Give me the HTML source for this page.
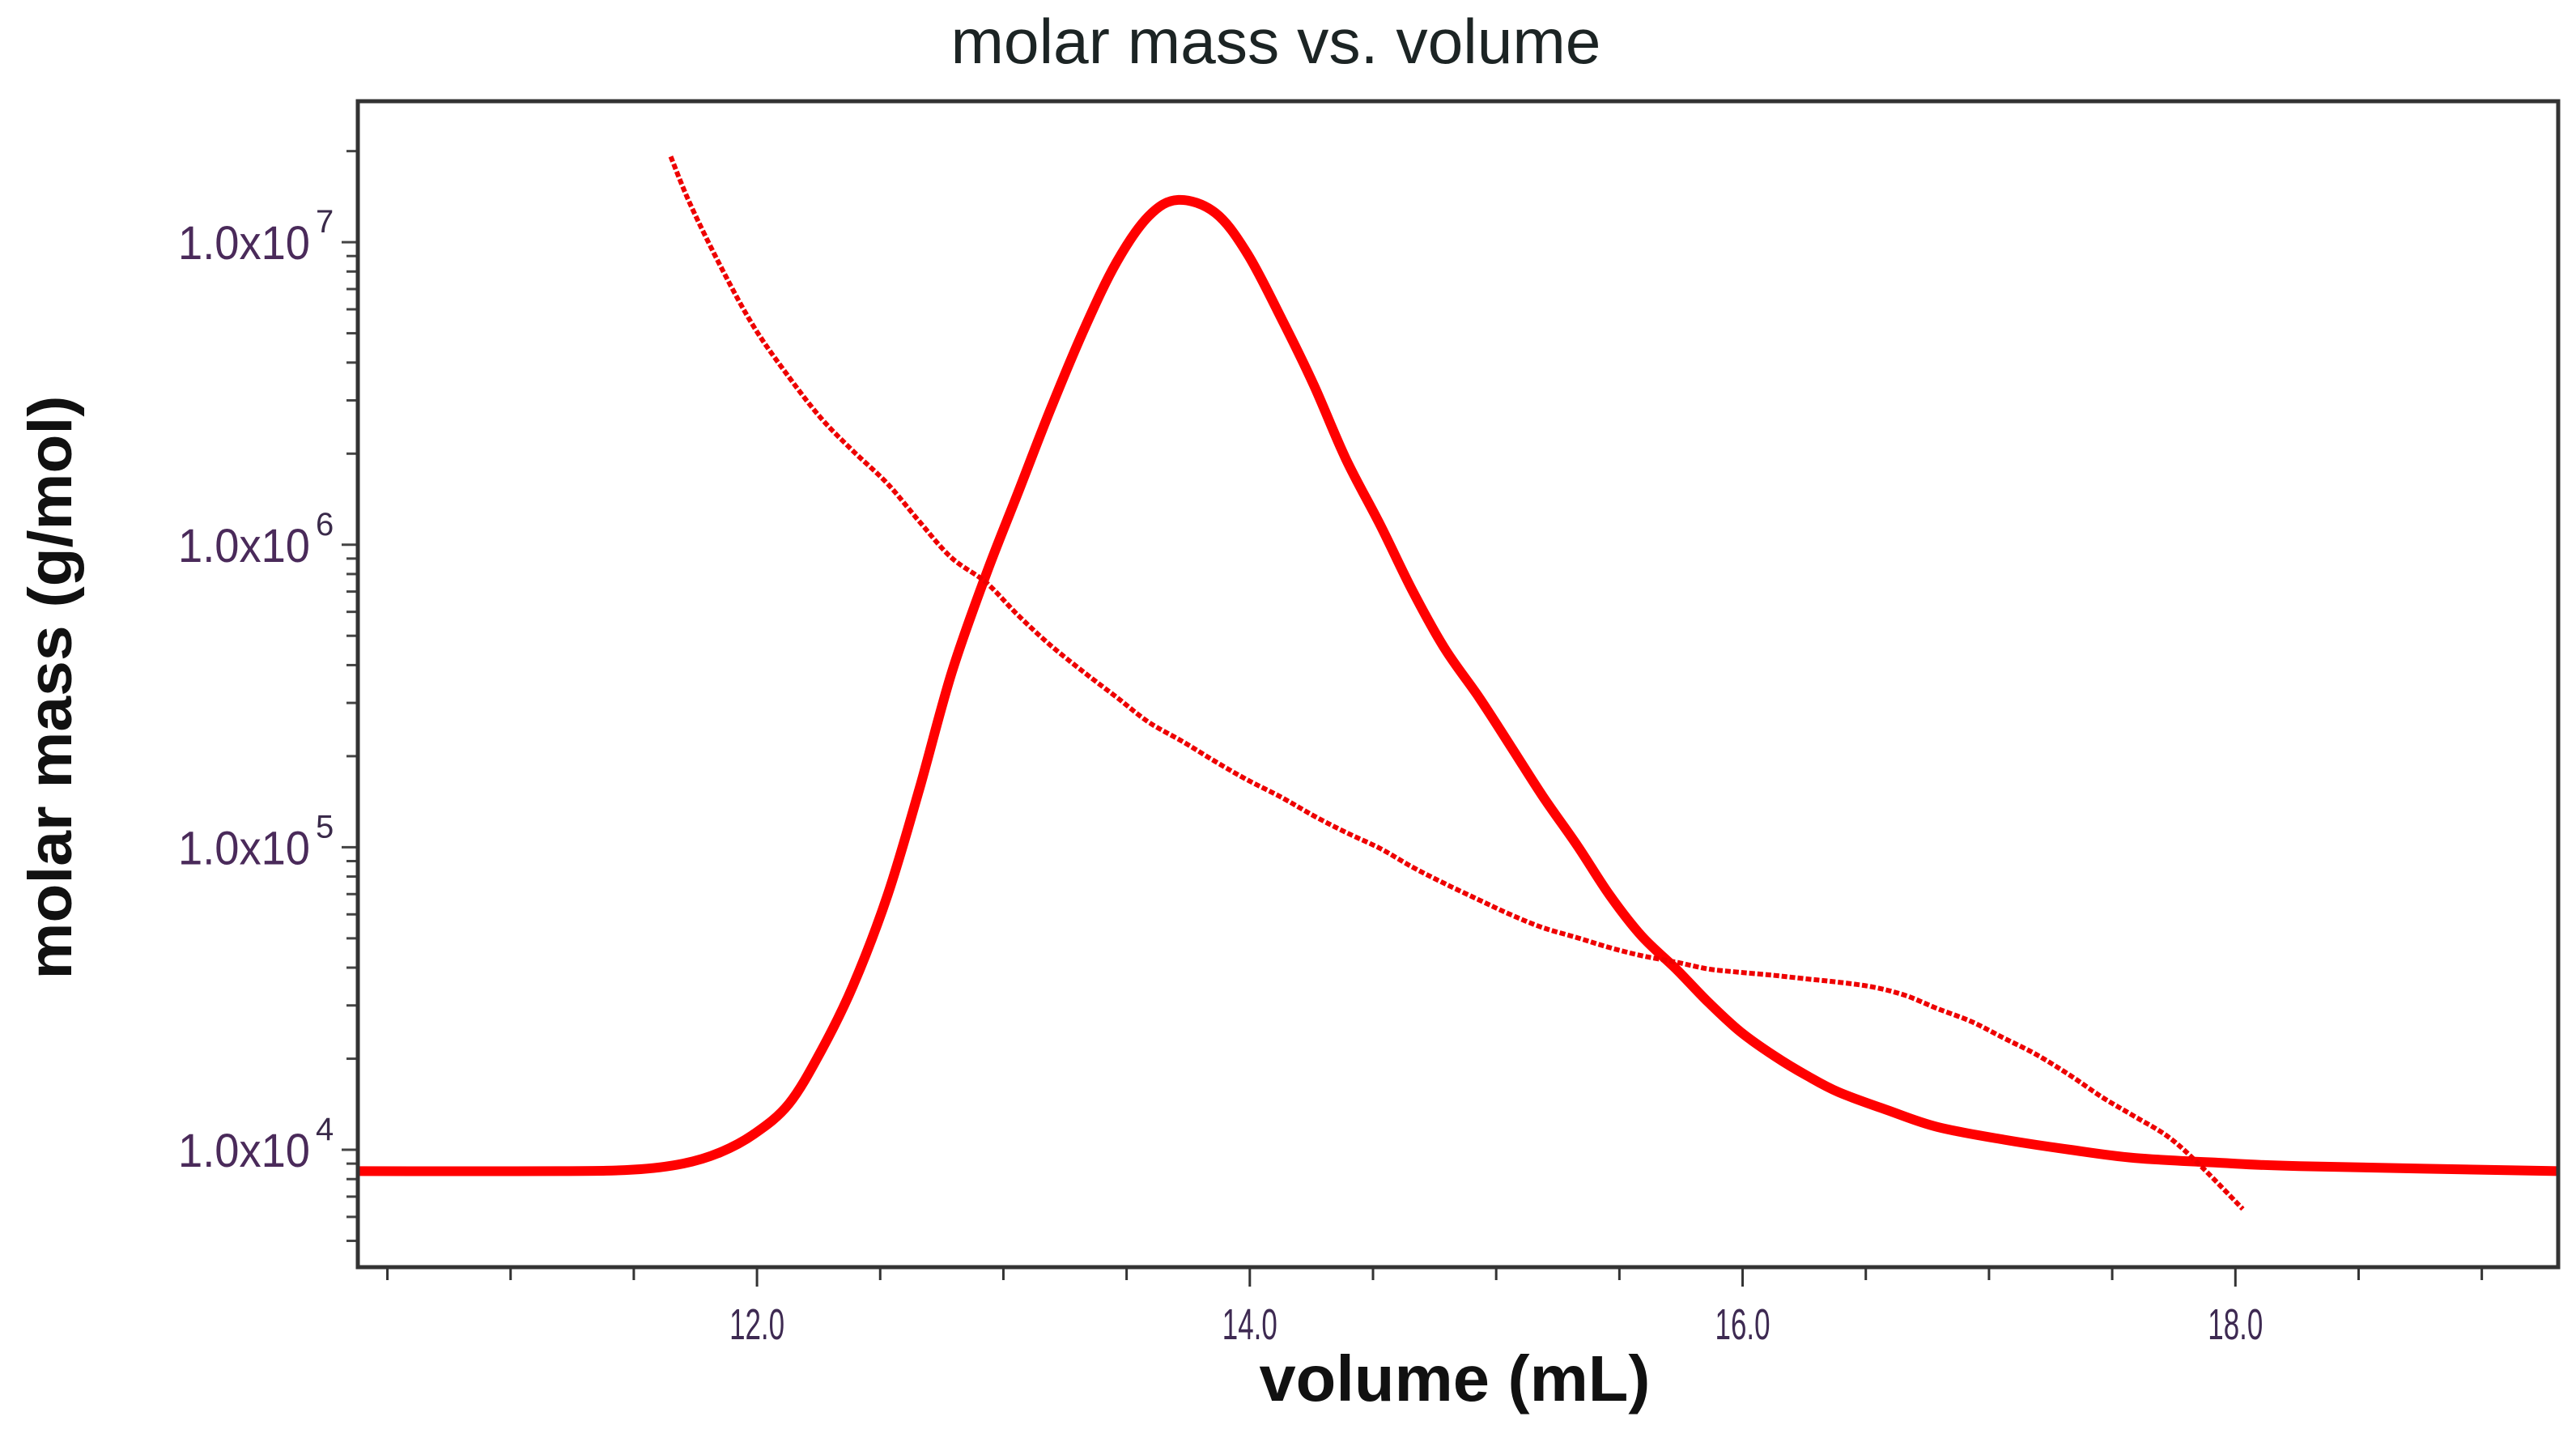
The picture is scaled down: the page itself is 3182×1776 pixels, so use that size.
<!DOCTYPE html>
<html><head><meta charset="utf-8"><style>
html,body{margin:0;padding:0;background:#fff;}
svg{display:block;font-family:"Liberation Sans",Arial,sans-serif;}
</style></head><body>
<svg id="chart" width="3182" height="1776" viewBox="0 0 3182 1776" xmlns="http://www.w3.org/2000/svg">
<rect width="3182" height="1776" fill="#fff"/>
<text x="1576" y="78" text-anchor="middle" font-size="78" fill="#1c2424" textLength="803" lengthAdjust="spacingAndGlyphs">molar mass vs. volume</text>
<text x="1797" y="1730" text-anchor="middle" font-size="80" font-weight="bold" fill="#111" textLength="483" lengthAdjust="spacingAndGlyphs">volume (mL)</text>
<text transform="translate(88,849) rotate(-90)" text-anchor="middle" font-size="76" font-weight="bold" fill="#111" textLength="721" lengthAdjust="spacingAndGlyphs">molar mass (g/mol)</text>
<g id="axes"></g>
<g id="series"></g>
<rect x="442" y="125" width="2718" height="1440" fill="none" stroke="#333" stroke-width="5"/>
</svg>
<script>
const xTicks = [12.0, 14.0, 16.0, 18.0];
const xTickLabels = ["12.0", "14.0", "16.0", "18.0"];
const yDecades = [4, 5, 6, 7];
const yTickLabels = ["1.0x10", "1.0x10", "1.0x10", "1.0x10"];
const yTickExps = ["4", "5", "6", "7"];

const concVolume = [10.38,11.2,11.5,11.7,11.85,11.99,12.13,12.26,12.39,12.53,12.66,12.79,12.93,13.06,13.19,13.33,13.46,13.59,13.71,13.86,13.99,14.13,14.26,14.39,14.53,14.66,14.79,14.93,15.06,15.19,15.33,15.46,15.59,15.73,15.86,15.99,16.13,16.26,16.39,16.59,16.79,17.06,17.33,17.59,17.93,18.26,19.31];
const concValues = [8.5e3,8.5e3,8.6e3,9.0e3,9.8e3,1.13e4,1.42e4,2.12e4,3.49e4,6.95e4,1.57e5,3.77e5,7.98e5,1.49e6,2.79e6,5.21e6,8.61e6,1.22e7,1.38e7,1.25e7,9.16e6,5.56e6,3.37e6,1.92e6,1.16e6,7.05e5,4.55e5,3.13e5,2.15e5,1.47e5,1.01e5,6.95e4,5.09e4,3.96e4,3.08e4,2.46e4,2.04e4,1.76e4,1.55e4,1.35e4,1.19e4,1.08e4,1.0e4,9.4e3,9.06e3,8.83e3,8.5e3];

const massVolume = [11.65,11.73,11.86,11.99,12.13,12.26,12.39,12.53,12.66,12.79,12.93,13.06,13.19,13.33,13.46,13.59,13.73,13.86,13.99,14.13,14.26,14.39,14.53,14.66,14.79,14.93,15.06,15.19,15.33,15.46,15.59,15.73,15.86,15.99,16.13,16.26,16.39,16.53,16.66,16.79,16.93,17.06,17.19,17.33,17.46,17.59,17.73,17.86,18.03];
const massValues = [1.92e7,1.33e7,8.09e6,5.21e6,3.58e6,2.62e6,2.04e6,1.59e6,1.19e6,9.05e5,7.5e5,5.84e5,4.66e5,3.77e5,3.13e5,2.59e5,2.23e5,1.92e5,1.67e5,1.46e5,1.27e5,1.12e5,9.9e4,8.6e4,7.59e4,6.7e4,5.98e4,5.42e4,5.02e4,4.66e4,4.38e4,4.17e4,3.96e4,3.86e4,3.77e4,3.67e4,3.58e4,3.45e4,3.24e4,2.93e4,2.65e4,2.34e4,2.07e4,1.76e4,1.49e4,1.29e4,1.1e4,8.83e3,6.37e3];

const NS = "http://www.w3.org/2000/svg";
const PL = 442, PR = 3160, PT = 125, PB = 1565;
const X0 = 10.38, X1 = 19.31;
const LOG0 = 3.612, LOG1 = 7.466;
function xs(v){ return PL + (v - X0) / (X1 - X0) * (PR - PL); }
function ys(v){ return PB - (Math.log10(v) - LOG0) / (LOG1 - LOG0) * (PB - PT); }
function mk(tag, attrs, parent){ const e = document.createElementNS(NS, tag); for (const k in attrs) e.setAttribute(k, attrs[k]); parent.appendChild(e); return e; }
function smoothPath(pts){
  let d = 'M' + pts[0][0].toFixed(1) + ',' + pts[0][1].toFixed(1);
  for (let i = 0; i < pts.length - 1; i++) {
    const p0 = pts[Math.max(0, i-1)], p1 = pts[i], p2 = pts[i+1], p3 = pts[Math.min(pts.length-1, i+2)];
    const c1x = p1[0] + (p2[0]-p0[0])/6, c1y = p1[1] + (p2[1]-p0[1])/6;
    const c2x = p2[0] - (p3[0]-p1[0])/6, c2y = p2[1] - (p3[1]-p1[1])/6;
    d += ' C' + c1x.toFixed(1) + ',' + c1y.toFixed(1) + ' ' + c2x.toFixed(1) + ',' + c2y.toFixed(1) + ' ' + p2[0].toFixed(1) + ',' + p2[1].toFixed(1);
  }
  return d;
}

const axes = document.getElementById('axes');
for (let v = 10.5; v <= X1; v += 0.5) {
  const major = Math.abs(v - Math.round(v/2)*2) < 1e-6;
  const t = mk('line', {x1: xs(v), x2: xs(v), y1: PB, y2: PB + (major ? 24 : 16), stroke: '#333', 'stroke-width': 3}, axes);
  
  
}
xTicks.forEach((v, i) => {
  const t = mk('text', {x: xs(v), y: 1654, 'text-anchor': 'middle', 'font-size': 54, fill: '#3e2a52', textLength: 68, lengthAdjust: 'spacingAndGlyphs'}, axes);
  t.textContent = xTickLabels[i];
  
  
});
for (let d = 3; d <= 7; d++) {
  for (let m = 1; m <= 9; m++) {
    const v = m * Math.pow(10, d);
    const yy = ys(v);
    if (yy < PT || yy > PB) continue;
    const t = mk('line', {x1: PL - (m === 1 ? 20 : 14), x2: PL, y1: yy, y2: yy, stroke: '#444', 'stroke-width': 3}, axes);
    
    
  }
}
yDecades.forEach((d, i) => {
  const yy = ys(Math.pow(10, d));
  const t = mk('text', {x: 220, y: yy + 21, 'font-size': 58, fill: '#4a2a5a', textLength: 163, lengthAdjust: 'spacingAndGlyphs'}, axes);
  t.textContent = yTickLabels[i];
  
  
  const s = mk('text', {x: 390, y: yy - 12, 'font-size': 40, fill: '#3a2a4a'}, axes);
  s.textContent = yTickExps[i];
  
  
});

const series = document.getElementById('series');
const p1 = mk('path', {d: smoothPath(concVolume.map((v,i) => [xs(v), ys(concValues[i])])), fill: 'none', stroke: '#ff0000', 'stroke-width': 12, 'stroke-linejoin': 'round'}, series);


const p2 = mk('path', {d: smoothPath(massVolume.map((v,i) => [xs(v), ys(massValues[i])])), fill: 'none', stroke: '#ee0000', 'stroke-width': 6, 'stroke-dasharray': '7 3'}, series);


</script>
</body></html>
